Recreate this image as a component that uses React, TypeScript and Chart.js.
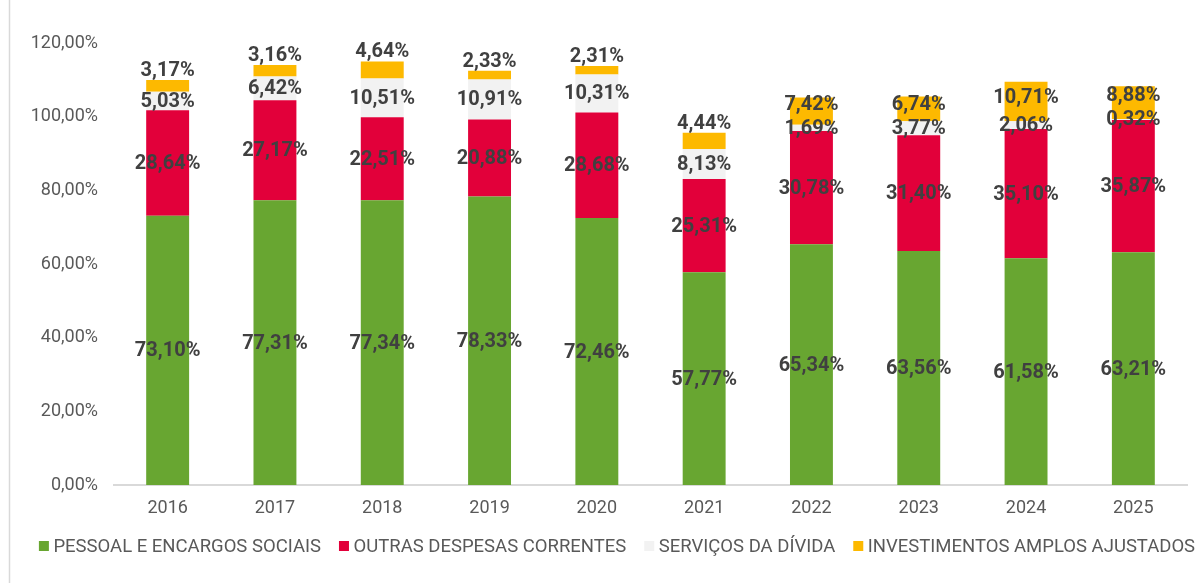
import React, { useEffect, useRef } from "react";
import { Chart, registerables } from "chart.js";

Chart.register(...registerables);

const years = ["2016", "2017", "2018", "2019", "2020", "2021", "2022", "2023", "2024", "2025"];
const pessoal = [73.10, 77.31, 77.34, 78.33, 72.46, 57.77, 65.34, 63.56, 61.58, 63.21];
const outras = [28.64, 27.17, 22.51, 20.88, 28.68, 25.31, 30.78, 31.40, 35.10, 35.87];
const servicos = [5.03, 6.42, 10.51, 10.91, 10.31, 8.13, 1.69, 3.77, 2.06, 0.32];
const investimentos = [3.17, 3.16, 4.64, 2.33, 2.31, 4.44, 7.42, 6.74, 10.71, 8.88];

const seriesNames = [
  "PESSOAL E ENCARGOS SOCIAIS",
  "OUTRAS DESPESAS CORRENTES",
  "SERVIÇOS DA DÍVIDA",
  "INVESTIMENTOS AMPLOS AJUSTADOS",
];
const seriesColors = ["#68A631", "#E2003A", "#F2F2F2", "#FDB900"];

const FONT = "Roboto";
const fmt = (v: number) => v.toFixed(2).replace(".", ",") + "%";

const labelPlugin = {
  id: "segLabels",
  afterDatasetsDraw(chart: any) {
    const ctx = chart.ctx;
    ctx.save();
    ctx.font = `bold 20px ${FONT}`;
    ctx.fillStyle = "#404040";
    ctx.textAlign = "center";
    ctx.textBaseline = "middle";
    const nd = chart.data.datasets.length;
    const n = chart.data.labels.length;
    for (let i = 0; i < n; i++) {
      let grayY = 0;
      for (let d = 0; d < nd; d++) {
        const meta = chart.getDatasetMeta(d);
        const el: any = meta.data[i];
        const v = chart.data.datasets[d].data[i] as number;
        const center = (el.y + el.base) / 2;
        let y = center;
        if (d === 2) grayY = center;
        if (d === nd - 1) {
          if (v < 5) y = el.y - 10;
          else y = Math.min(center - 5, grayY - 24);
        }
        ctx.fillText(fmt(v), el.x, y + 1);
      }
    }
    ctx.restore();
  },
};

const legendPlugin = {
  id: "customLegend",
  afterDraw(chart: any) {
    const ctx = chart.ctx;
    ctx.save();
    // left frame line
    ctx.strokeStyle = "#D9D9D9";
    ctx.lineWidth = 1.5;
    ctx.beginPath();
    ctx.moveTo(9.5, 0);
    ctx.lineTo(9.5, chart.height);
    ctx.stroke();

    ctx.font = `18.5px ${FONT}`;
    ctx.textBaseline = "middle";
    ctx.textAlign = "left";
    const box = 10;
    const gapBoxText = 4.5;
    const gapItems = 18;
    const widths = seriesNames.map((s) => ctx.measureText(s).width);
    const total =
      widths.reduce((a, w) => a + box + gapBoxText + w, 0) + gapItems * (seriesNames.length - 1);
    let x = 617 - total / 2;
    const yc = 546;
    seriesNames.forEach((s, k) => {
      ctx.fillStyle = seriesColors[k];
      ctx.fillRect(x, yc - box / 2, box, box);
      ctx.fillStyle = "#595959";
      ctx.fillText(s, x + box + gapBoxText, yc + 1);
      x += box + gapBoxText + widths[k] + gapItems;
    });
    ctx.restore();
  },
};

export default function App() {
  const ref = useRef<HTMLCanvasElement | null>(null);
  useEffect(() => {
    if (!ref.current) return;
    const data = [pessoal, outras, servicos, investimentos];
    const chart = new Chart(ref.current, {
      type: "bar",
      data: {
        labels: years,
        datasets: data.map((arr, k) => ({
          label: seriesNames[k],
          data: arr,
          backgroundColor: seriesColors[k],
          borderWidth: 0,
          barPercentage: 0.4,
          categoryPercentage: 1,
        })),
      },
      options: {
        animation: false,
        responsive: false,
        maintainAspectRatio: false,
        layout: { padding: { top: 43, right: 13, bottom: 0, left: 0 } },
        plugins: {
          legend: { display: false },
          tooltip: { enabled: false },
        },
        scales: {
          x: {
            stacked: true,
            grid: { display: false, drawTicks: false },
            border: { display: true, color: "#D9D9D9", width: 2 },
            ticks: {
              padding: 13,
              color: "#595959",
              font: { family: FONT, size: 18 },
            },
            afterFit: (s: any) => {
              s.height = 98;
            },
          },
          y: {
            stacked: true,
            min: 0,
            max: 120,
            grid: { display: false, drawTicks: false },
            border: { display: false },
            ticks: {
              stepSize: 20,
              padding: 16,
              color: "#595959",
              font: { family: FONT, size: 18 },
              callback: (v: any) => Number(v).toFixed(2).replace(".", ",") + "%",
            },
            afterFit: (s: any) => {
              s.width = 114;
            },
          },
        },
      },
      plugins: [labelPlugin, legendPlugin],
    });
    return () => chart.destroy();
  }, []);
  return (
    <div style={{ position: "fixed", left: 0, top: 0, width: 1200, height: 583, background: "#fff" }}>
      <canvas ref={ref} width={1200} height={583} style={{ display: "block" }} />
    </div>
  );
}
